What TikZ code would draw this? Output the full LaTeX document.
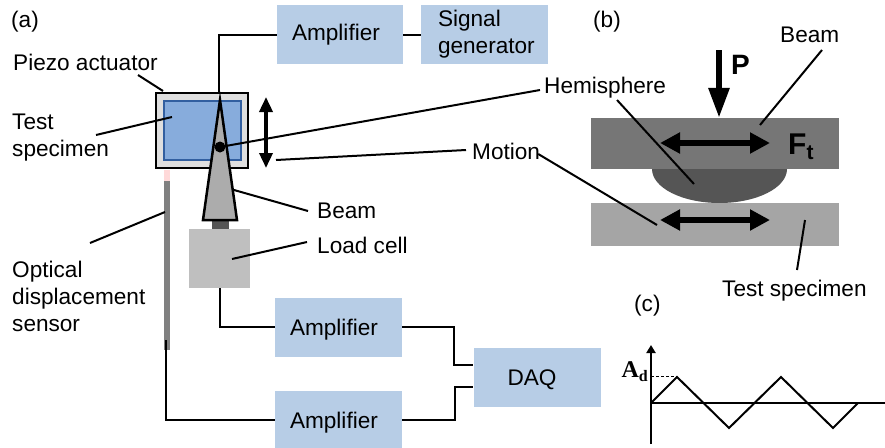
\documentclass[tikz,border=0pt]{standalone}
\usepackage{fontspec}
\setmainfont{Liberation Sans}
\usetikzlibrary{arrows.meta}
\definecolor{ampblue}{RGB}{183,205,230}
\definecolor{specblue}{RGB}{135,172,220}
\definecolor{specline}{RGB}{50,95,160}
\definecolor{beamgray}{RGB}{118,118,118}
\definecolor{hemigray}{RGB}{85,85,85}
\definecolor{testgray}{RGB}{165,165,165}
\tikzset{
    label/.style={inner sep=0pt,align=left,font=\fontsize{22.6}{27}\selectfont},
    ampbox/.style 2 args={fill=ampblue,inner ysep=0pt,inner xsep=#2,text width=#1-2*#2,minimum height=59pt,font=\fontsize{22.6}{27}\selectfont,align=left},
    lowtext/.style={text height=20pt,text depth=3pt},
    wire/.style={line width=2pt},
    leader/.style={line width=2pt},
    motion/.style={line width=6pt,{Triangle[length=20pt,width=20pt]}-{Triangle[length=20pt,width=20pt]}},
}
\begin{document}
\begin{tikzpicture}[x=1pt,y=-1pt]
    \useasboundingbox (0,0) rectangle (885,447);

    \node[ampbox={126pt}{15pt}] (amptop) at (340,34.5) {Amplifier};
    \node[ampbox={127pt}{17pt}] (siggen) at (484.5,34.5) {Signal\\generator};
    \node[ampbox={127pt}{15pt},lowtext] (ampload) at (338.5,327) {Amplifier};
    \node[ampbox={127pt}{15pt},lowtext] (ampsensor) at (338.5,420) {Amplifier};
    \node[ampbox={127pt}{34pt},lowtext] (daq) at (537,377) {DAQ};
    \node[fill=gray!50,inner sep=0pt,minimum width=61pt,minimum height=59pt] (loadcell) at (219.5,258.5) {};
    \node[fill=gray,inner sep=0pt,minimum width=6pt,minimum height=169pt] (sensor) at (167,265.5) {};
    \fill[red!15] (164,170) rectangle (170,181);
    \node[draw,line width=2.5pt,fill=gray!25,inner sep=0pt,minimum width=92pt,minimum height=75pt] (actuator) at (202,130.5) {};
    \node[draw=specline,line width=2pt,fill=specblue,inner sep=0pt,minimum width=77pt,minimum height=59pt] (specimen) at (202,130.5) {};
    \fill[hemigray] (212,221) rectangle (229,229);
    \draw[line width=2.5pt,fill=gray!65] (220,100) -- (237,220) -- (203,220) -- cycle;
    \fill (220,147) circle (5.5);

    \coordinate (piezotip) at (163,91);
    \coordinate (specimentip) at (172,117);
    \coordinate (beamtip) at (234,190);
    \coordinate (loadtip) at (232,259);
    \coordinate (sensortip) at (165,212);
    \coordinate (sensorend) at (166,340);

    \node[label,anchor=west] (laba) at (11,22) {(a)};
    \node[label,anchor=west] (labpiezo) at (13,62) {Piezo actuator};
    \node[label,anchor=west] (labspecimen) at (12,138) {Test\\specimen};
    \node[label,anchor=west] (labsensor) at (12,296) {Optical\\displacement\\sensor};
    \node[label,anchor=west] (labbeam) at (317,211) {Beam};
    \node[label,anchor=west] (labload) at (317,245) {Load cell};
    \node[label,anchor=west] (labhemi) at (544,88) {Hemisphere};
    \node[label,anchor=west] (labmotion) at (472,151) {Motion};
    \node[label,anchor=west] (labb) at (593,22) {(b)};
    \node[label,anchor=west] (labbeamb) at (780,35) {Beam};
    \node[label,anchor=west] (labtest) at (722,291) {Test specimen};
    \node[label,anchor=west] (labc) at (634,306) {(c)};

    \draw[wire] (amptop.west) -| (219,92);
    \draw[wire] (amptop.east) -- (siggen.west);
    \draw[wire] (loadcell.south) |- (ampload.west);
    \draw[wire] (sensorend) |- (ampsensor.west);
    \draw[wire] (ampload.east) -| (454,365) -- (daq.west |- 0,365);
    \draw[wire] (ampsensor.east) -| (455,387) -- (daq.west |- 0,387);

    \draw[leader] (138,75) -- (piezotip);
    \draw[leader] (96,135) -- (specimentip);
    \draw[leader] (90,243) -- (sensortip);
    \draw[leader] (beamtip) -- (308,211);
    \draw[leader] (loadtip) -- (307,242);
    \draw[leader] (220,147) -- (540,90);
    \draw[leader] (276,160) -- (466,150);
    \draw[line width=3.5pt,{Triangle[length=15pt,width=13pt]}-{Triangle[length=15pt,width=13pt]}] (266,97) -- (266,168);

    \node[fill=beamgray,inner sep=0pt,minimum width=248pt,minimum height=51pt] (beamplate) at (715,143.5) {};
    \fill[hemigray] (652,169) arc[start angle=180,end angle=0,x radius=67.5,y radius=34] -- cycle;
    \node[fill=testgray,inner sep=0pt,minimum width=248pt,minimum height=43pt] (testplate) at (715,224.5) {};
    \coordinate (ptop) at (719,50);
    \draw[line width=6pt,-{Triangle[length=30pt,width=20pt]}] (ptop) -- (beamplate.north -| ptop);
    \node[inner sep=0pt,anchor=west,font=\fontsize{28}{28}\selectfont\bfseries] (labp) at (731,65) {P};
    \draw[motion] (660,143) -- (770,143);
    \draw[motion] (660,220) -- (770,220);
    \node[inner sep=0pt,anchor=west,font=\fontsize{30}{30}\selectfont\bfseries] (labft) at (788,147) {F$_{\mathbf{t}}$};
    \draw[leader] (822,50) -- (760,125);
    \draw[leader] (617,100) -- (694,184);
    \draw[leader] (labmotion.east) ++(-2,3) -- (657,225);
    \draw[leader] (805,220) -- (797,270);

    \coordinate (origin) at (651,403);
    \draw[line width=2pt,-{Triangle[length=8pt,width=9pt]}] (651,444) -- (651,345);
    \draw[line width=2pt] (origin) -- (885,403);
    \draw[line width=2pt] (origin) -- (677,377) -- (729,428) -- (781,377) -- (833,428) -- (858,403);
    \draw[densely dashed,thin] (651,376.5) -- (677,376.5);
    \node[inner sep=0pt,anchor=east,font=\fontsize{24}{24}\selectfont\bfseries] (labad) at (648,372) {\fontspec{Liberation Serif}A\raisebox{-4pt}{\fontsize{16}{16}\selectfont d}};
\end{tikzpicture}
\end{document}
